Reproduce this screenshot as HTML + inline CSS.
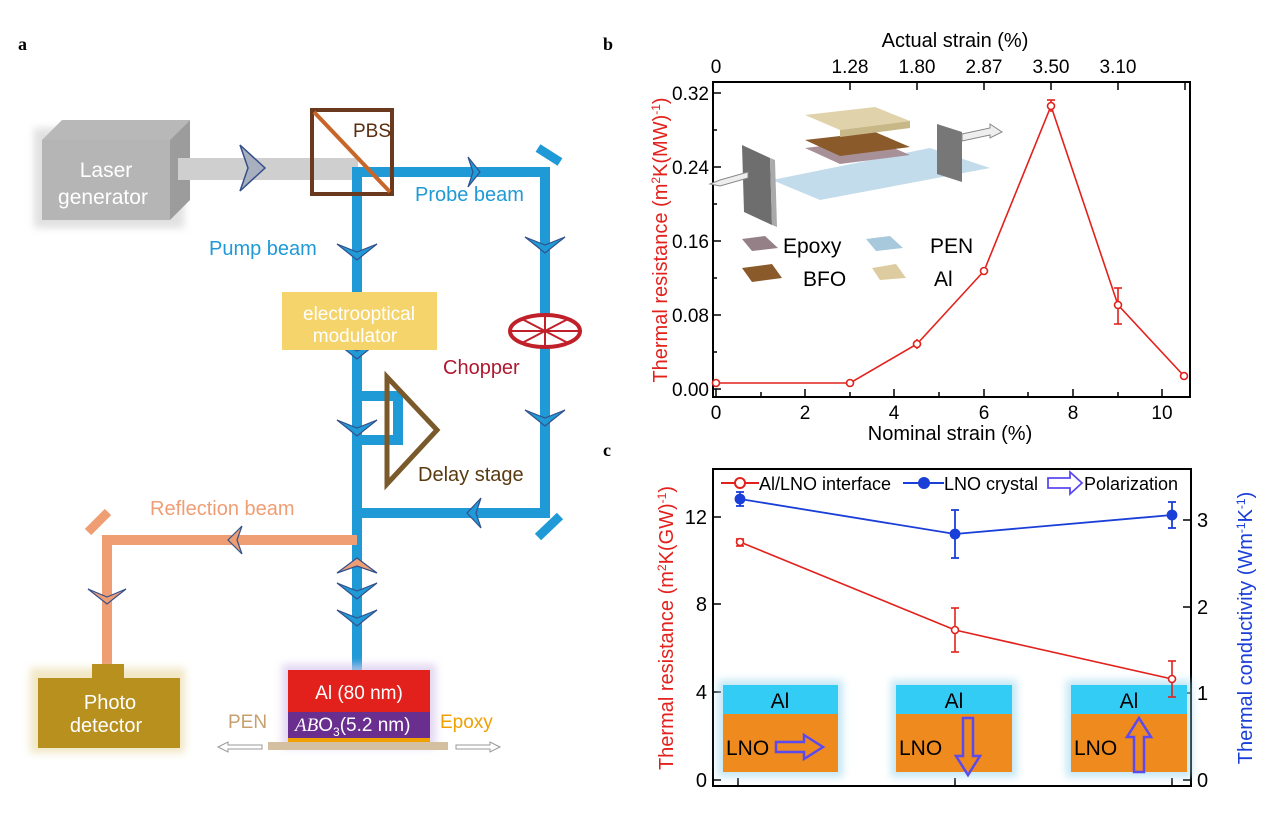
<!DOCTYPE html>
<html><head><meta charset="utf-8"><style>
html,body{margin:0;padding:0;background:#fff}
svg{display:block;font-family:"Liberation Sans",sans-serif}
</style></head><body>
<svg width="1268" height="819" viewBox="0 0 1268 819" xmlns="http://www.w3.org/2000/svg">
<defs>
<filter id="bl" x="-20%" y="-20%" width="140%" height="140%"><feGaussianBlur stdDeviation="4"/></filter>
</defs>
<!-- ===== Panel a ===== -->
<text x="18" y="50" font-family="Liberation Serif" font-weight="bold" font-size="18">a</text>
<rect x="34" y="128" width="150" height="100" fill="#ccc" filter="url(#bl)" opacity="0.6"/>
<polygon points="42,140 62,120 190,120 170,140" fill="#b8b8b8"/>
<polygon points="170,140 190,120 190,200 170,220" fill="#9c9c9c"/>
<rect x="42" y="140" width="128" height="80" fill="#b5b5b5"/>
<text x="106" y="177" fill="#fff" font-size="21" text-anchor="middle">Laser</text>
<text x="103" y="204" fill="#fff" font-size="21" text-anchor="middle">generator</text>
<rect x="178" y="158" width="180" height="22" fill="#cfcfcf"/>
<polygon points="240,145 265,168 240,191 248,168" fill="#a8b0c0" stroke="#34508c" stroke-width="1.5"/>
<g stroke="#1f9ad6" stroke-width="10" fill="none">
<polyline points="357,670 357,172 545,172 545,513 357,513"/>
<polyline points="357,380 357,396 398,396 398,440 357,440"/>
</g>
<line x1="538" y1="148" x2="560" y2="162" stroke="#1f9ad6" stroke-width="9"/>
<line x1="538" y1="537" x2="560" y2="516" stroke="#1f9ad6" stroke-width="9"/>
<rect x="312" y="110" width="80" height="84" fill="none" stroke="#6b3a1e" stroke-width="4"/>
<line x1="314" y1="112" x2="390" y2="192" stroke="#c8662a" stroke-width="4"/>
<text x="353" y="137" fill="#5a2e10" font-size="19">PBS</text>
<text x="415" y="201" fill="#1f9ad6" font-size="20">Probe beam</text>
<text x="209" y="255" fill="#1f9ad6" font-size="20">Pump beam</text>
<g fill="#1f9ad6" stroke="#34508c" stroke-width="1.2">
<polygon points="337,244 357,260 377,244 357,252"/>
<polygon points="525,237 545,253 565,237 545,245"/>
<polygon points="525,410 545,426 565,410 545,418"/>
<polygon points="337,343 357,359 377,343 357,351"/>
<polygon points="337,420 357,436 377,420 357,428"/>
<polygon points="337,583 357,599 377,583 357,591"/>
<polygon points="337,610 357,626 377,610 357,618"/>
<polygon points="468,157 480,172 468,187 473,172"/>
<polygon points="481,498 467,513 481,528 476,513"/>
</g>
<rect x="282" y="292" width="155" height="58" fill="#f5d46c"/>
<text x="359" y="320" fill="#fff" font-size="19" text-anchor="middle">electrooptical</text>
<text x="355" y="342" fill="#fff" font-size="19" text-anchor="middle">modulator</text>
<ellipse cx="545" cy="331" rx="35" ry="16" fill="#fff" stroke="#c0202a" stroke-width="4"/>
<g stroke="#c0202a" stroke-width="2"><line x1="510" y1="331" x2="580" y2="331"/><line x1="522" y1="319" x2="568" y2="343"/><line x1="522" y1="343" x2="568" y2="319"/><line x1="545" y1="315" x2="545" y2="347"/></g>
<text x="443" y="374" fill="#b01830" font-size="20">Chopper</text>
<polygon points="387,377 437,430 387,484" fill="none" stroke="#7a5a2a" stroke-width="5"/>
<text x="418" y="481" fill="#5a3a10" font-size="20">Delay stage</text>
<g stroke="#ef9e74" stroke-width="10" fill="none"><polyline points="357,540 107,540 107,670"/></g>
<line x1="88" y1="532" x2="108" y2="512" stroke="#ef9e74" stroke-width="9"/>
<polygon points="337,573 357,558 377,573 357,566" fill="#ef9e74" stroke="#34508c" stroke-width="1.2"/>
<polygon points="242,526 228,540 242,554 237,540" fill="#ef9e74" stroke="#34508c" stroke-width="1.2"/>
<polygon points="88,589 107,604 126,589 107,597" fill="#ef9e74" stroke="#34508c" stroke-width="1.2"/>
<text x="150" y="515" fill="#ef9e74" font-size="20">Reflection beam</text>
<rect x="30" y="668" width="155" height="85" fill="#e8d8a0" filter="url(#bl)" opacity="0.6"/>
<rect x="92" y="664" width="32" height="16" fill="#b8901e"/>
<rect x="38" y="678" width="142" height="70" fill="#b8901e"/>
<text x="110" y="709" fill="#fff" font-size="20" text-anchor="middle">Photo</text>
<text x="106" y="732" fill="#fff" font-size="20" text-anchor="middle">detector</text>
<rect x="282" y="664" width="154" height="84" fill="#d8c8ec" filter="url(#bl)" opacity="0.7"/>
<rect x="288" y="670" width="142" height="42" fill="#e3211c"/>
<rect x="288" y="712" width="142" height="26" fill="#6a2e8e"/>
<rect x="288" y="738" width="142" height="4" fill="#f0a000"/>
<rect x="268" y="742" width="180" height="8" fill="#d4c0a0"/>
<text x="359" y="699" fill="#fff" font-size="19" text-anchor="middle">Al (80 nm)</text>
<text x="295" y="731" fill="#fff" font-size="19"><tspan font-family="Liberation Serif" font-style="italic">AB</tspan>O<tspan font-size="12" dy="5">3</tspan><tspan dy="-5">(5.2 nm)</tspan></text>
<text x="228" y="728" fill="#c8a070" font-size="19">PEN</text>
<text x="440" y="728" fill="#f0a000" font-size="19">Epoxy</text>
<g stroke="#999" fill="none"><polygon points="218,747 228,742 228,745 262,745 262,749 228,749 228,752"/><polygon points="500,747 490,742 490,745 456,745 456,749 490,749 490,752"/></g>

<!-- ===== Panel b ===== -->
<text x="603" y="50" font-family="Liberation Serif" font-weight="bold" font-size="18">b</text>
<text x="955" y="47" font-size="20" text-anchor="middle">Actual strain (%)</text>
<g font-size="19" text-anchor="middle">
<text x="716" y="73">0</text><text x="850" y="73">1.28</text><text x="917" y="73">1.80</text><text x="984" y="73">2.87</text><text x="1051" y="73">3.50</text><text x="1118" y="73">3.10</text>
</g>
<rect x="713" y="82" width="477" height="315" fill="none" stroke="#000" stroke-width="2"/>
<g stroke="#000" stroke-width="1.5">
<line x1="850" y1="82" x2="850" y2="90"/><line x1="917" y1="82" x2="917" y2="90"/><line x1="984" y1="82" x2="984" y2="90"/><line x1="1051" y1="82" x2="1051" y2="90"/><line x1="1118" y1="82" x2="1118" y2="90"/><line x1="1185" y1="82" x2="1185" y2="90"/>
<line x1="716" y1="397" x2="716" y2="389"/><line x1="761" y1="397" x2="761" y2="392"/><line x1="805" y1="397" x2="805" y2="389"/><line x1="850" y1="397" x2="850" y2="392"/><line x1="894" y1="397" x2="894" y2="389"/><line x1="939" y1="397" x2="939" y2="392"/><line x1="984" y1="397" x2="984" y2="389"/><line x1="1028" y1="397" x2="1028" y2="392"/><line x1="1073" y1="397" x2="1073" y2="389"/><line x1="1118" y1="397" x2="1118" y2="392"/><line x1="1162" y1="397" x2="1162" y2="389"/>
<line x1="713" y1="93" x2="721" y2="93"/><line x1="713" y1="130" x2="717" y2="130"/><line x1="713" y1="167" x2="721" y2="167"/><line x1="713" y1="204" x2="717" y2="204"/><line x1="713" y1="241" x2="721" y2="241"/><line x1="713" y1="278" x2="717" y2="278"/><line x1="713" y1="315" x2="721" y2="315"/><line x1="713" y1="352" x2="717" y2="352"/><line x1="713" y1="389" x2="721" y2="389"/>
</g>
<g font-size="19" text-anchor="end">
<text x="709" y="100">0.32</text><text x="709" y="174">0.24</text><text x="709" y="248">0.16</text><text x="709" y="322">0.08</text><text x="709" y="396">0.00</text>
</g>
<g font-size="19" text-anchor="middle">
<text x="716" y="419">0</text><text x="805" y="419">2</text><text x="894" y="419">4</text><text x="984" y="419">6</text><text x="1073" y="419">8</text><text x="1162" y="419">10</text>
</g>
<text x="950" y="440" font-size="20" text-anchor="middle">Nominal strain (%)</text>
<text transform="translate(667,240) rotate(-90)" font-size="20" fill="#e3211c" text-anchor="middle">Thermal resistance (m<tspan font-size="12" dy="-7">2</tspan><tspan dy="7">K(MW)</tspan><tspan font-size="12" dy="-7">-1</tspan><tspan dy="7">)</tspan></text>
<!-- inset -->
<polygon points="772,180 930,148 990,168 820,200" fill="#b8d6e8" opacity="0.85"/>
<polygon points="742,145 770,158 772,225 744,212" fill="#6e6e6e"/>
<polygon points="770,158 775,160 777,227 772,225" fill="#aaa"/>
<polygon points="937,124 962,132 962,182 937,174" fill="#777"/>
<polygon points="805,148 875,140 910,155 840,164" fill="#a89098"/>
<polygon points="805,140 875,132 910,147 840,156" fill="#8a5a2a"/>
<polygon points="805,115 875,107 910,121 840,130" fill="#e0d2aa"/>
<polygon points="840,130 910,121 910,128 840,137" fill="#c8b888"/>
<polygon points="720,180 748,172 748,178 720,186 710,184" fill="#eee" stroke="#888"/>
<polygon points="962,134 990,128 990,124 1002,132 990,138 990,135 962,141" fill="#eee" stroke="#888"/>
<polygon points="742,239 765,236 778,248 752,251" fill="#958088"/>
<polygon points="866,239 890,236 903,248 876,251" fill="#a8c8dc"/>
<polygon points="742,268 772,264 782,278 752,282" fill="#8a5a2a"/>
<polygon points="872,268 896,264 906,278 880,280" fill="#dccca0"/>
<g font-size="21"><text x="783" y="253">Epoxy</text><text x="930" y="253">PEN</text><text x="803" y="286">BFO</text><text x="934" y="286">Al</text></g>
<g stroke="#e3211c" stroke-width="1.6" fill="none">
<polyline points="716,383 850,383 917,344 984,271 1051,106 1118,305 1184,376"/>
<line x1="917" y1="339" x2="917" y2="349"/><line x1="1051" y1="100" x2="1051" y2="112"/><line x1="1118" y1="288" x2="1118" y2="324"/>
<line x1="1047" y1="100" x2="1055" y2="100"/><line x1="1114" y1="288" x2="1122" y2="288"/><line x1="1114" y1="324" x2="1122" y2="324"/>
<circle cx="716" cy="383" r="3.5" fill="#fff"/><circle cx="850" cy="383" r="3.5" fill="#fff"/><circle cx="917" cy="344" r="3.5" fill="#fff"/><circle cx="984" cy="271" r="3.5" fill="#fff"/><circle cx="1051" cy="106" r="3.5" fill="#fff"/><circle cx="1118" cy="305" r="3.5" fill="#fff"/><circle cx="1184" cy="376" r="3.5" fill="#fff"/>
</g>

<!-- ===== Panel c ===== -->
<text x="603" y="456" font-family="Liberation Serif" font-weight="bold" font-size="18">c</text>
<rect x="713" y="469" width="478" height="317" fill="none" stroke="#000" stroke-width="2"/>
<g stroke="#000" stroke-width="1.5">
<line x1="738" y1="786" x2="738" y2="778"/><line x1="955" y1="786" x2="955" y2="778"/><line x1="1172" y1="786" x2="1172" y2="778"/>
<line x1="713" y1="780" x2="721" y2="780"/><line x1="713" y1="692" x2="721" y2="692"/><line x1="713" y1="604" x2="721" y2="604"/><line x1="713" y1="517" x2="721" y2="517"/>
<line x1="1191" y1="780" x2="1183" y2="780"/><line x1="1191" y1="693" x2="1183" y2="693"/><line x1="1191" y1="607" x2="1183" y2="607"/><line x1="1191" y1="520" x2="1183" y2="520"/>
</g>
<g font-size="20" text-anchor="end"><text x="707" y="787">0</text><text x="707" y="699">4</text><text x="707" y="611">8</text><text x="707" y="524">12</text></g>
<g font-size="20"><text x="1197" y="787">0</text><text x="1197" y="700">1</text><text x="1197" y="614">2</text><text x="1197" y="527">3</text></g>
<text transform="translate(673,628) rotate(-90)" font-size="20" fill="#e3211c" text-anchor="middle">Thermal resistance (m<tspan font-size="12" dy="-7">2</tspan><tspan dy="7">K(GW)</tspan><tspan font-size="12" dy="-7">-1</tspan><tspan dy="7">)</tspan></text>
<text transform="translate(1252,628) rotate(-90)" font-size="20" fill="#1a3fd8" text-anchor="middle">Thermal conductivity (Wm<tspan font-size="12" dy="-7">-1</tspan><tspan dy="7">K</tspan><tspan font-size="12" dy="-7">-1</tspan><tspan dy="7">)</tspan></text>
<g>
<rect x="718" y="680" width="125" height="97" fill="#9cd8ee" filter="url(#bl)" opacity="0.6"/>
<rect x="891" y="680" width="126" height="97" fill="#9cd8ee" filter="url(#bl)" opacity="0.6"/>
<rect x="1066" y="680" width="126" height="97" fill="#9cd8ee" filter="url(#bl)" opacity="0.6"/>
<rect x="723" y="685" width="115" height="29" fill="#33ccf5"/><rect x="723" y="714" width="115" height="58" fill="#ef8a1e"/>
<rect x="896" y="685" width="116" height="29" fill="#33ccf5"/><rect x="896" y="714" width="116" height="58" fill="#ef8a1e"/>
<rect x="1071" y="685" width="116" height="29" fill="#33ccf5"/><rect x="1071" y="714" width="116" height="58" fill="#ef8a1e"/>
<g font-size="21" text-anchor="middle"><text x="780" y="708">Al</text><text x="954" y="708">Al</text><text x="1129" y="708">Al</text></g>
<g font-size="21"><text x="726" y="755">LNO</text><text x="899" y="755">LNO</text><text x="1074" y="755">LNO</text></g>
<g fill="none" stroke="#5a4af0" stroke-width="2.5">
<polygon points="776,742 804,742 804,735 823,747 804,759 804,752 776,752"/>
<polygon points="963,718 973,718 973,756 980,756 968,775 956,756 963,756"/>
<polygon points="1134,772 1144,772 1144,737 1151,737 1139,718 1127,737 1134,737"/>
</g>
</g>
<g stroke="#1a3fd8" stroke-width="1.8" fill="#1a3fd8">
<polyline fill="none" points="740,499 955,534 1172,515"/>
<line x1="740" y1="492" x2="740" y2="506"/><line x1="736" y1="492" x2="744" y2="492"/><line x1="736" y1="506" x2="744" y2="506"/>
<line x1="955" y1="510" x2="955" y2="558"/><line x1="951" y1="510" x2="959" y2="510"/><line x1="951" y1="558" x2="959" y2="558"/>
<line x1="1172" y1="502" x2="1172" y2="528"/><line x1="1168" y1="502" x2="1176" y2="502"/><line x1="1168" y1="528" x2="1176" y2="528"/>
<circle cx="740" cy="499" r="4.5"/><circle cx="955" cy="534" r="4.5"/><circle cx="1172" cy="515" r="4.5"/>
</g>
<g stroke="#e3211c" stroke-width="1.6" fill="none">
<polyline points="740,542 955,630 1172,679"/>
<line x1="736" y1="539" x2="744" y2="539"/><line x1="736" y1="546" x2="744" y2="546"/>
<line x1="955" y1="608" x2="955" y2="652"/><line x1="951" y1="608" x2="959" y2="608"/><line x1="951" y1="652" x2="959" y2="652"/>
<line x1="1172" y1="661" x2="1172" y2="697"/><line x1="1168" y1="661" x2="1176" y2="661"/><line x1="1168" y1="697" x2="1176" y2="697"/>
<circle cx="740" cy="542" r="3.5" fill="#fff"/><circle cx="955" cy="630" r="3.5" fill="#fff"/><circle cx="1172" cy="679" r="3.5" fill="#fff"/>
</g>
<line x1="721" y1="483" x2="759" y2="483" stroke="#e3211c" stroke-width="2"/><circle cx="740" cy="483" r="5" fill="#fff" stroke="#e3211c" stroke-width="2"/>
<text x="759" y="490" font-size="18">Al/LNO interface</text>
<line x1="903" y1="483" x2="944" y2="483" stroke="#1a3fd8" stroke-width="2"/><circle cx="924" cy="483" r="6" fill="#1a3fd8"/>
<text x="944" y="490" font-size="18">LNO crystal</text>
<polygon points="1048,478 1070,478 1070,472 1082,483 1070,494 1070,488 1048,488" fill="none" stroke="#5a4af0" stroke-width="1.8"/>
<text x="1084" y="490" font-size="18">Polarization</text>
</svg>
</body></html>
